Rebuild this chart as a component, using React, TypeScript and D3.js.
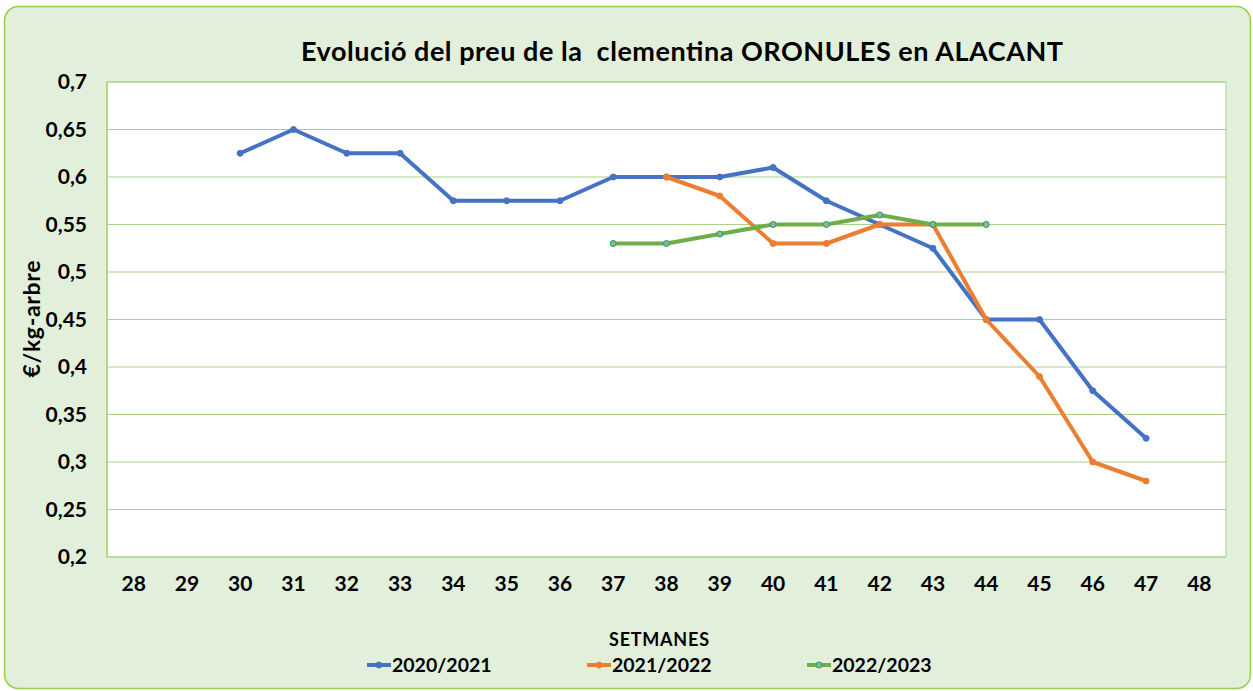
import React from "react";
import * as d3 from "d3";

const weeks = [28, 29, 30, 31, 32, 33, 34, 35, 36, 37, 38, 39, 40, 41, 42, 43, 44, 45, 46, 47, 48];
const yTicks = [0.2, 0.25, 0.3, 0.35, 0.4, 0.45, 0.5, 0.55, 0.6, 0.65, 0.7];

const s2020 = [
  [30, 0.625], [31, 0.65], [32, 0.625], [33, 0.625], [34, 0.575], [35, 0.575], [36, 0.575],
  [37, 0.6], [38, 0.6], [39, 0.6], [40, 0.61], [41, 0.575], [42, 0.55], [43, 0.525],
  [44, 0.45], [45, 0.45], [46, 0.375], [47, 0.325],
];
const s2021 = [
  [38, 0.6], [39, 0.58], [40, 0.53], [41, 0.53], [42, 0.55], [43, 0.55], [44, 0.45],
  [45, 0.39], [46, 0.3], [47, 0.28],
];
const s2022 = [
  [37, 0.53], [38, 0.53], [39, 0.54], [40, 0.55], [41, 0.55], [42, 0.56], [43, 0.55], [44, 0.55],
];

const seriesNames = ["2020/2021", "2021/2022", "2022/2023"];

export default function App() {
  const W = 1253, H = 691;
  const left = 107, right = 1226, top = 82, bottom = 557;
  const x = d3.scaleBand<number>().domain(weeks).range([left, right]);
  const xc = (w: number) => (x(w) as number) + x.bandwidth() / 2;
  const y = d3.scaleLinear().domain([0.2, 0.7]).range([bottom, top]);
  const line = d3.line<number[]>().x(d => xc(d[0])).y(d => y(d[1]));
  const font = "Lato, 'Open Sans', sans-serif";
  const series = [
    { name: seriesNames[0], data: s2020, color: "#4472C4", mfill: "#4472C4", mstroke: "#4472C4" },
    { name: seriesNames[1], data: s2021, color: "#ED7D31", mfill: "#ED7D31", mstroke: "#ED7D31" },
    { name: seriesNames[2], data: s2022, color: "#70AD47", mfill: "#A5A5A5", mstroke: "#00B050" },
  ];
  const legendX = [367, 587, 807];
  return (
    <svg width={W} height={H} style={{ position: "absolute", left: 0, top: 0 }} fontFamily={font}>
      <rect x={4.5} y={6.5} width={1246} height={682} rx={14} fill="#E2EFDA" stroke="#92D050" strokeWidth={1.5} />
      <rect x={left} y={top} width={right - left} height={bottom - top} fill="#FFFFFF" stroke="#A9D18E" strokeWidth={1} />
      {yTicks.map(t => (
        <line key={t} x1={left} x2={right} y1={y(t)} y2={y(t)} stroke="#A9D18E" strokeWidth={1} />
      ))}
      <line x1={left} x2={left} y1={top} y2={bottom} stroke="#92D050" strokeWidth={1} />
      {yTicks.map(t => (
        <text key={t} x={87} y={y(t)} dy="0.35em" textAnchor="end" fontSize={21} fontWeight="bold" fill="#000">
          {String(t).replace(".", ",")}
        </text>
      ))}
      {weeks.map(w => (
        <text key={w} x={xc(w)} y={584} dy="0.35em" textAnchor="middle" fontSize={21} fontWeight="bold" fill="#000">
          {w}
        </text>
      ))}
      <text x={682} y={52} dy="0.35em" textAnchor="middle" fontSize={27} fontWeight="bold" fill="#000"
        textLength={762} lengthAdjust="spacing" style={{ whiteSpace: "pre" }}>
        {"Evolució del preu de la  clementina ORONULES en ALACANT"}
      </text>
      <text transform={`translate(32,${319}) rotate(-90)`} dy="0.35em" textAnchor="middle" fontSize={23} fontWeight="bold" fill="#000"
        textLength={117} lengthAdjust="spacing">
        €/kg-arbre
      </text>
      <text x={659} y={640} dy="0.35em" textAnchor="middle" fontSize={18} fontWeight="bold" fill="#000"
        textLength={100} lengthAdjust="spacing">
        SETMANES
      </text>
      {series.map(s => (
        <g key={s.name}>
          <path d={line(s.data) || ""} fill="none" stroke={s.color} strokeWidth={4} strokeLinejoin="round" />
          {s.data.map(d => (
            <circle key={d[0]} cx={xc(d[0])} cy={y(d[1])} r={3} fill={s.mfill} stroke={s.mstroke} strokeWidth={1} />
          ))}
        </g>
      ))}
      {series.map((s, i) => (
        <g key={s.name} transform={`translate(${legendX[i]},665)`}>
          <line x1={0} x2={24} y1={0} y2={0} stroke={s.color} strokeWidth={4} />
          <circle cx={12} cy={0} r={3} fill={s.mfill} stroke={s.mstroke} strokeWidth={1} />
          <text x={25} y={0} dy="0.35em" fontSize={19.5} fontWeight="bold" fill="#000">{s.name}</text>
        </g>
      ))}
    </svg>
  );
}
